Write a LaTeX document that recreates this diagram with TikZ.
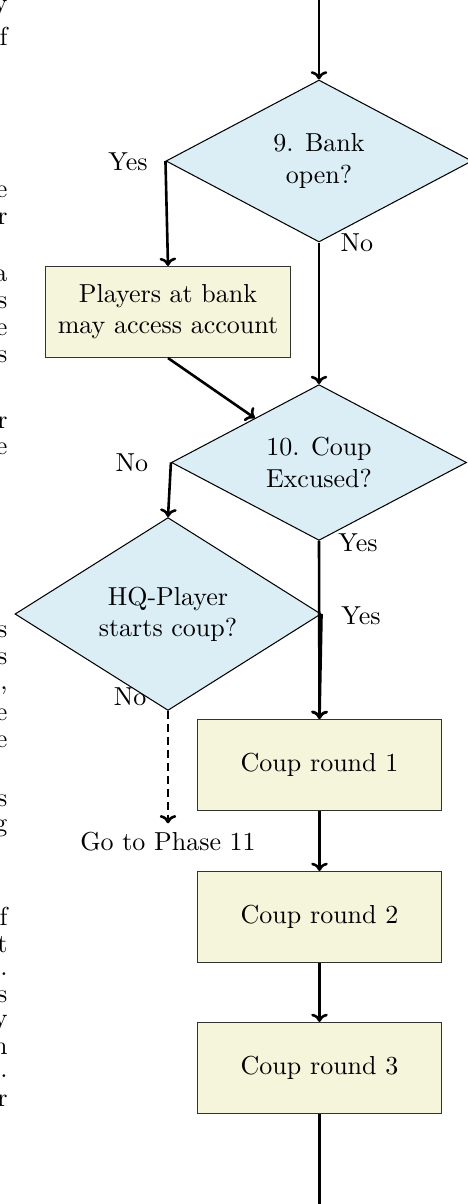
\documentclass[tikz,border=0pt]{standalone}
\usetikzlibrary{shapes.geometric,arrows.meta}
\definecolor{dfill}{RGB}{219,238,246}
\definecolor{bfill}{RGB}{245,245,220}
\begin{document}
\begin{tikzpicture}[x=0.3846pt,y=-0.3846pt,
  decision/.style={diamond, draw=black, line width=0.4pt, fill=dfill, align=center, inner sep=0pt},
  block/.style={rectangle, draw=black!80, line width=0.4pt, fill=bfill, align=center,
    minimum width=94.2pt, minimum height=35pt, inner sep=0pt},
  flow/.style={-{To[length=3.2pt,width=6.4pt]}, line width=1pt},
  lbl/.style={inner sep=0pt},
  frag/.style={anchor=base east, inner sep=0pt}]
\useasboundingbox (0,0) rectangle (467,1204);

% margin text fragments
\foreach \t/\yy [count=\i] in {y/11,f/45,e/197,r/224,a/281,s/308,e/335,s/362,r/428,e/454,
  s/637,s/664,{,}/689,e/720,e/747,s/806,g/831,f/925,t/952,./975,s/1002,y/1026,n/1054,./1077,r/1106}
  \node[frag] (frag\i) at (8,\yy) {\t};

% nodes
\coordinate (start) at (319,-6);
\node[decision, minimum width=117.7pt, minimum height=62.3pt] (d1) at (319,161) {9. Bank\\open?};
\node[block] (bank) at (168,312) {Players at bank\\may access account};
\node[decision, minimum width=113.5pt, minimum height=59.6pt] (d2) at (319,462.5) {10. Coup\\Excused?};
\node[decision, minimum width=117.7pt, minimum height=61.5pt] (d3) at (168,614) {HQ-Player\\starts coup?};
\node[block] (c1) at (319.5,765) {Coup round 1};
\node[block] (c2) at (319.5,917) {Coup round 2};
\node[block] (c3) at (319.5,1068) {Coup round 3};
\node[inner sep=3.33pt] (go) at (168,842) {Go to Phase 11};
\coordinate (end) at (319.5,1214);

% labels
\node[lbl] (l1) at (128,162) {Yes};
\node[lbl] (l2) at (357,243) {No};
\node[lbl] (l3) at (132,463) {No};
\node[lbl] (l4) at (358,543) {Yes};
\node[lbl] (l5) at (361,616) {Yes};
\node[lbl] (l6) at (130,697) {No};

% connectors
\draw[flow] (start) -- (d1.north);
\draw[flow] (d1.west) -- (bank.north);
\draw[flow] (d1.south) -- (d2.north);
\draw[flow] (bank.south) -- (d2);
\draw[flow] (d2.west) -- (d3.north);
\draw[flow] (d2.south) -- (c1.north);
\draw[flow] (d3.east) -- (c1.north);
\draw[flow, dash pattern=on 3pt off 2pt] (d3.south) -- (go.north);
\draw[flow] (c1) -- (c2);
\draw[flow] (c2) -- (c3);
\draw[flow] (c3.south) -- (end);
\end{tikzpicture}
\end{document}
